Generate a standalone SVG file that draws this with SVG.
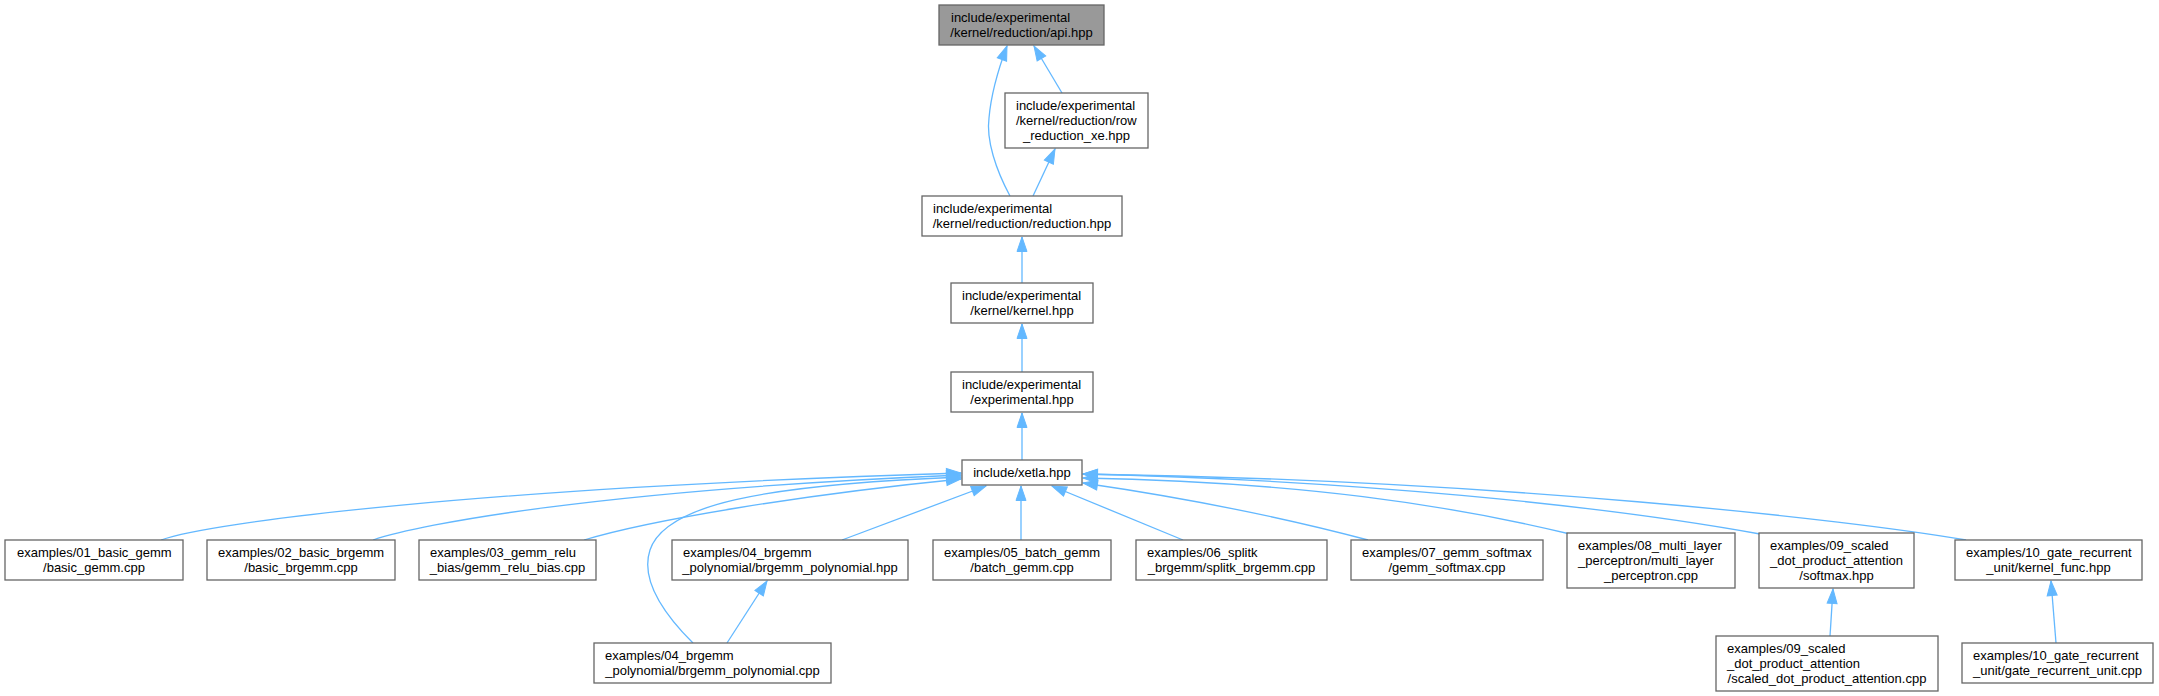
<svg xmlns="http://www.w3.org/2000/svg" width="2159" height="696" viewBox="0 0 2159 696">
<style>
.node rect{fill:#ffffff;stroke:#666666;stroke-width:1.3}
.node.root rect{fill:#999999}
.edge{fill:none;stroke:#63b8ff;stroke-width:1.3;marker-end:url(#ah)}
text{font-family:"Liberation Sans",Arial,Helvetica,sans-serif;font-size:13px;fill:#000000}
.c{text-anchor:middle}
</style>
<defs>
<marker id="ah" markerUnits="userSpaceOnUse" markerWidth="17" markerHeight="13" refX="15.5" refY="6" orient="auto" overflow="visible">
<path d="M1,1 L15.5,6 L1,11 z" fill="#63b8ff" stroke="#63b8ff" stroke-width="1"/>
</marker>
</defs>
<rect width="2159" height="696" fill="#ffffff"/>
<g id="connectors">
<path class="edge" d="M1062,93 L1034,46"/>
<path class="edge" d="M1010,196 C996,170 986,140 989,118 C991,95 998,70 1007,46"/>
<path class="edge" d="M1033,196 L1055,149"/>
<path class="edge" d="M1022,283 L1022,237"/>
<path class="edge" d="M1022,372 L1022,324"/>
<path class="edge" d="M1022,460 L1022,413"/>
<path class="edge" d="M161,540 C210,522 480,488 961,473"/>
<path class="edge" d="M373,540 C420,524 600,490 961,475"/>
<path class="edge" d="M584,540 C650,520 800,495 961,479"/>
<path class="edge" d="M693,643 C665,615 640,580 650,550 C665,505 760,485 961,477"/>
<path class="edge" d="M842,540 L986,486"/>
<path class="edge" d="M727,643 L767,581"/>
<path class="edge" d="M1021,540 L1021,486"/>
<path class="edge" d="M1183,540 L1052,486"/>
<path class="edge" d="M1368,540 C1300,522 1200,500 1083,483"/>
<path class="edge" d="M1570,534 C1450,505 1300,482 1083,478"/>
<path class="edge" d="M1760,534 C1600,505 1350,480 1083,474"/>
<path class="edge" d="M1966,540 C1850,520 1500,480 1083,474"/>
<path class="edge" d="M1830,636 L1833,589"/>
<path class="edge" d="M2056,643 L2051,581"/>
</g>
<g id="n_api" class="node root"><rect x="939" y="5" width="165" height="40"/><text x="951" y="22">include/experimental</text><text class="c" x="1021.5" y="37">/kernel/reduction/api.hpp</text></g>
<g id="n_row_reduction" class="node"><rect x="1005" y="93" width="143" height="55"/><text x="1016" y="110">include/experimental</text><text x="1016" y="125">/kernel/reduction/row</text><text class="c" x="1076.5" y="140">_reduction_xe.hpp</text></g>
<g id="n_reduction" class="node"><rect x="922" y="196" width="200" height="40"/><text x="933" y="213">include/experimental</text><text class="c" x="1022" y="228">/kernel/reduction/reduction.hpp</text></g>
<g id="n_kernel" class="node"><rect x="951" y="283" width="142" height="40"/><text x="962" y="300">include/experimental</text><text class="c" x="1022" y="315">/kernel/kernel.hpp</text></g>
<g id="n_experimental" class="node"><rect x="951" y="372" width="142" height="40"/><text x="962" y="389">include/experimental</text><text class="c" x="1022" y="404">/experimental.hpp</text></g>
<g id="n_xetla" class="node"><rect x="962" y="460" width="120" height="25"/><text class="c" x="1022" y="477">include/xetla.hpp</text></g>
<g id="n_01" class="node"><rect x="5" y="540" width="178" height="40"/><text x="17" y="557">examples/01_basic_gemm</text><text class="c" x="94" y="572">/basic_gemm.cpp</text></g>
<g id="n_02" class="node"><rect x="207" y="540" width="188" height="40"/><text x="218" y="557">examples/02_basic_brgemm</text><text class="c" x="301" y="572">/basic_brgemm.cpp</text></g>
<g id="n_03" class="node"><rect x="419" y="540" width="177" height="40"/><text x="430" y="557">examples/03_gemm_relu</text><text class="c" x="507.5" y="572">_bias/gemm_relu_bias.cpp</text></g>
<g id="n_04hpp" class="node"><rect x="672" y="540" width="236" height="40"/><text x="683" y="557">examples/04_brgemm</text><text class="c" x="790" y="572">_polynomial/brgemm_polynomial.hpp</text></g>
<g id="n_05" class="node"><rect x="933" y="540" width="178" height="40"/><text x="944" y="557">examples/05_batch_gemm</text><text class="c" x="1022" y="572">/batch_gemm.cpp</text></g>
<g id="n_06" class="node"><rect x="1136" y="540" width="191" height="40"/><text x="1147" y="557">examples/06_splitk</text><text class="c" x="1231.5" y="572">_brgemm/splitk_brgemm.cpp</text></g>
<g id="n_07" class="node"><rect x="1351" y="540" width="192" height="40"/><text x="1362" y="557">examples/07_gemm_softmax</text><text class="c" x="1447" y="572">/gemm_softmax.cpp</text></g>
<g id="n_08" class="node"><rect x="1567" y="533" width="168" height="55"/><text x="1578" y="550">examples/08_multi_layer</text><text x="1578" y="565">_perceptron/multi_layer</text><text class="c" x="1651" y="580">_perceptron.cpp</text></g>
<g id="n_09hpp" class="node"><rect x="1759" y="533" width="155" height="55"/><text x="1770" y="550">examples/09_scaled</text><text x="1770" y="565">_dot_product_attention</text><text class="c" x="1836.5" y="580">/softmax.hpp</text></g>
<g id="n_10hpp" class="node"><rect x="1955" y="540" width="187" height="40"/><text x="1966" y="557">examples/10_gate_recurrent</text><text class="c" x="2048.5" y="572">_unit/kernel_func.hpp</text></g>
<g id="n_04cpp" class="node"><rect x="594" y="643" width="237" height="40"/><text x="605" y="660">examples/04_brgemm</text><text class="c" x="712.5" y="675">_polynomial/brgemm_polynomial.cpp</text></g>
<g id="n_09cpp" class="node"><rect x="1716" y="636" width="222" height="55"/><text x="1727" y="653">examples/09_scaled</text><text x="1727" y="668">_dot_product_attention</text><text class="c" x="1827" y="683">/scaled_dot_product_attention.cpp</text></g>
<g id="n_10cpp" class="node"><rect x="1962" y="643" width="191" height="40"/><text x="1973" y="660">examples/10_gate_recurrent</text><text class="c" x="2057.5" y="675">_unit/gate_recurrent_unit.cpp</text></g>
</svg>
